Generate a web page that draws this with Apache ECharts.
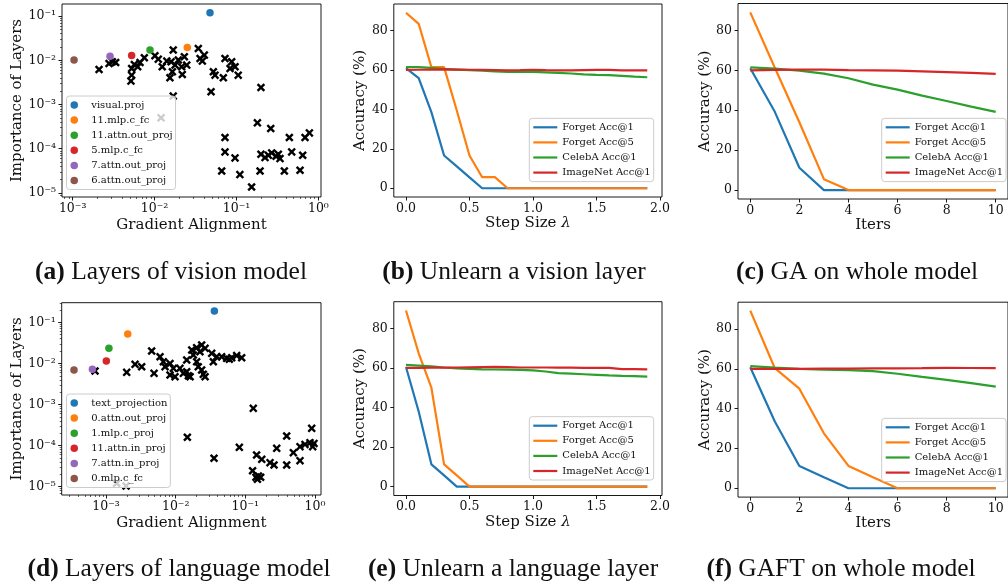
<!DOCTYPE html>
<html><head><meta charset="utf-8">
<script src="https://cdn.jsdelivr.net/npm/echarts@6/dist/echarts.min.js"></script>
<style>html,body{margin:0;padding:0;background:#fff}#c{width:1008px;height:585px}</style>
</head><body><div id="c"></div>
<script>
// ---------------- DATA ----------------
const stepX = [0,0.1,0.2,0.3,0.4,0.5,0.6,0.7,0.8,0.9,1.0,1.1,1.2,1.3,1.4,1.5,1.6,1.7,1.8,1.9];
const iterX = [0,1,2,3,4,5,6,7,8,9,10];
const lineNames = ['Forget Acc@1','Forget Acc@5','CelebA Acc@1','ImageNet Acc@1'];

// (b) Unlearn a vision layer
const bForget1 = [60.9,55.8,38.6,16.6,11.1,5.5,0,0,0,0,0,0,0,0,0,0,0,0,0,0];
const bForget5 = [89,83.4,61.4,61.4,39.4,16.6,5.6,5.6,0,0,0,0,0,0,0,0,0,0,0,0];
const bCeleb   = [61.5,61.4,61,60.5,60.2,59.9,59.6,59.3,59.0,59.0,59.0,58.8,58.5,58.2,57.8,57.5,57.4,57.0,56.6,56.3];
const bImageNet= [60,60.1,60.2,60.3,60.2,60.1,60.0,59.9,59.8,59.9,60.1,59.9,59.8,59.8,59.9,60.0,60.0,59.8,59.8,59.8];

// (c) GA on whole model
const cForget1 = [61,39.2,11.2,0,0,0,0,0,0,0,0];
const cForget5 = [89,61.3,34,5.5,0,0,0,0,0,0,0];
const cCeleb   = [61.5,60.8,59.8,58.3,56,52.8,50.3,47.3,44.6,41.8,39.2];
const cImageNet= [60,60.2,60.3,60.3,60.1,60,59.8,59.5,59.1,58.7,58.2];

// (e) Unlearn a language layer
const eForget1 = [60.5,38,11.3,5.7,0,0,0,0,0,0,0,0,0,0,0,0,0,0,0,0];
const eForget5 = [89,67.4,50,11.3,5.7,0,0,0,0,0,0,0,0,0,0,0,0,0,0,0];
const eCeleb   = [61.5,61.2,60.8,60.2,59.8,59.5,59.3,59.2,59.1,59.0,58.8,58.2,57.4,57.1,56.8,56.5,56.2,56.0,55.9,55.6];
const eImageNet= [60.0,60.0,60.1,60.1,60.2,60.3,60.4,60.5,60.4,60.2,60.2,60.2,60.1,60.1,60.0,60.0,60.0,59.4,59.4,59.3];

// (f) GAFT on whole model
const fForget1 = [60.8,33.5,11.2,5.5,0,0,0,0,0,0,0];
const fForget5 = [89.2,60.3,50,27.6,11.2,5.5,0,0,0,0,0];
const fCeleb   = [61.3,60.6,60,59.6,59.3,58.8,57.5,55.9,54.4,52.8,51];
const fImageNet= [60,60,60,60.1,60.1,60.2,60.2,60.3,60.5,60.4,60.3];

// (a) Layers of vision model: [gradient alignment, importance]
const visionLayerNames = ['visual.proj','11.mlp.c_fc','11.attn.out_proj','5.mlp.c_fc','7.attn.out_proj','6.attn.out_proj'];
const visionLayerPoints = [[0.0475,0.119],[0.0251,0.0195],[0.00879,0.0170],[0.00525,0.01285],[0.00286,0.0124],[0.00104,0.0101]];
const visionCross = [
 [2.10e-3,6.2e-3],[2.78e-3,8.48e-3],[3.05e-3,9.25e-3],[3.35e-3,8.93e-3],
 [5.25e-3,6.53e-3],[5.25e-3,4.61e-3],[5.15e-3,3.38e-3],[5.66e-3,8.05e-3],[6.22e-3,7.13e-3],[6.64e-3,8.93e-3],[7.50e-3,1.14e-2],
 [1.01e-2,1.26e-2],[1.11e-2,1.06e-2],[1.24e-2,7.13e-3],[1.41e-2,9.58e-3],[1.69e-2,1.70e-2],[1.59e-2,9.25e-3],[1.78e-2,7.78e-3],[1.54e-2,4.02e-3],[1.65e-2,5.49e-3],
 [1.95e-2,1.01e-2],[2.14e-2,7.13e-3],[2.31e-2,1.20e-2],[2.18e-2,4.78e-3],[2.47e-2,7.78e-3],
 [3.42e-2,1.85e-2],[3.59e-2,1.10e-2],[4.05e-2,1.31e-2],[3.83e-2,9.58e-3],
 [5.22e-2,5.49e-3],[5.47e-2,4.61e-3],[6.91e-2,4.02e-3],[7.24e-2,1.10e-2],[8.74e-2,9.25e-3],[9.6e-2,7.13e-3],[1.05e-1,4.61e-3],[8.34e-2,6.53e-3],
 [4.89e-2,1.94e-3],[1.69e-2,1.55e-3],[1.20e-2,4.99e-4],
 [1.99e-1,2.43e-3],[1.80e-1,3.85e-4],[2.62e-1,2.86e-4],[7.24e-2,1.79e-4],[4.42e-1,1.79e-4],[6.87e-1,1.79e-4],[7.76e-1,2.28e-4],
 [7.24e-2,8.48e-5],[9.6e-2,6.2e-5],[1.99e-1,7.5e-5],[2.23e-1,6.31e-5],[2.45e-1,7.13e-5],[2.69e-1,8.05e-5],[3.04e-1,6.76e-5],[3.40e-1,5.99e-5],[3.24e-1,7.5e-5],[4.72e-1,8.48e-5],[6.43e-1,7.13e-5],
 [6.6e-2,3.15e-5],[1.10e-1,2.6e-5],[1.94e-1,3.15e-5],[3.84e-1,3.15e-5],[5.97e-1,3.26e-5],[1.53e-1,1.37e-5]
];

// (d) Layers of language model
const languageLayerNames = ['text_projection','0.attn.out_proj','1.mlp.c_proj','11.attn.in_proj','7.attn.in_proj','0.mlp.c_fc'];
const languageLayerPoints = [[0.0359,0.189],[0.00205,0.052],[0.00110,0.0233],[0.00101,0.0115],[0.000637,0.00718],[0.000347,0.00692]];
const languageCross = [
 [6.95e-4,6.54e-3],[1.98e-3,6.07e-3],[2.61e-3,9.5e-3],[3.25e-3,8.33e-3],[4.52e-3,2.0e-2],[4.89e-3,5.74e-3],[5.96e-3,1.46e-2],[6.65e-3,1.10e-2],[7.03e-3,8.33e-3],[8.29e-3,1.0e-2],[9.26e-3,7.59e-3],[8.29e-3,5.22e-3],[9.78e-3,4.76e-3],
 [1.15e-2,7.59e-3],[1.29e-2,5.74e-3],[1.44e-2,6.3e-3],[1.52e-2,5.03e-3],[1.61e-2,4.76e-3],[1.44e-2,1.21e-2],[1.70e-2,2.12e-2],[1.79e-2,1.60e-2],[2.0e-2,2.42e-2],[2.36e-2,2.81e-2],[2.64e-2,2.33e-2],[2.23e-2,1.93e-2],[2.0e-2,1.10e-2],[2.11e-2,8.33e-3],[2.36e-2,6.92e-3],[2.49e-2,5.42e-3],[2.64e-2,4.76e-3],
 [3.29e-2,1.76e-2],[3.47e-2,1.10e-2],[3.88e-2,1.46e-2],[4.57e-2,1.46e-2],[5.40e-2,1.33e-2],[6.37e-2,1.38e-2],[7.51e-2,1.55e-2],[8.86e-2,1.38e-2],[5.89e-2,1.26e-2],
 [1.42e-3,1.21e-5],[1.94e-3,1.04e-5],
 [1.47e-2,1.59e-4],[1.30e-1,8.07e-4],[3.55e-2,4.9e-5],[8.2e-2,9.07e-5],[1.45e-1,5.9e-5],[1.72e-1,4.63e-5],[2.26e-1,3.84e-5],[2.58e-1,3.37e-5],[2.82e-1,8.57e-5],[3.92e-1,1.71e-4],[3.92e-1,3.37e-5],[4.89e-1,6.73e-5],[6.09e-1,4.3e-5],
 [1.27e-1,2.45e-5],[1.42e-1,1.69e-5],[1.54e-1,1.82e-5],[1.66e-1,1.69e-5],[1.49e-1,1.51e-5],[6.09e-1,9.42e-5],[7.18e-1,1.07e-4],[8.47e-1,1.18e-4],[9.26e-1,9.42e-5],[8.96e-1,2.63e-4],[9.67e-1,1.13e-4]
];

// tick labels
const logMajorTicks = [1e-5,1e-4,1e-3,1e-2,1e-1,1];
const accTicks = [0,20,40,60,80];
const stepTicks = [0,0.5,1.0,1.5,2.0];
const iterTicks = [0,2,4,6,8,10];
const captions = [
 ['(a)','Layers of vision model'],['(b)','Unlearn a vision layer'],['(c)','GA on whole model'],
 ['(d)','Layers of language model'],['(e)','Unlearn a language layer'],['(f)','GAFT on whole model']
];

// ---------------- STYLE ----------------
const F = 'DejaVu Serif';
const lineColors = ['#1f77b4','#ff7f0e','#2ca02c','#d62728'];
const layerColors = ['#1f77b4','#ff7f0e','#2ca02c','#d62728','#9467bd','#8c564b'];
const TXT = '#111';
const SUP = {'-':'\u207B','0':'\u2070','1':'\u00B9','2':'\u00B2','3':'\u00B3','4':'\u2074','5':'\u2075','6':'\u2076'};
function logLabel(v){ const e = Math.round(Math.log10(v)); return '10' + String(e).split('').map(c=>SUP[c]).join(''); }
const minorTicks = [];
for (let e = -6; e <= 0; e++) for (let k = 2; k <= 9; k++) minorTicks.push(k * Math.pow(10, e));

const grids = [
 {left:62,   top:4,     width:259,   height:193},
 {left:393.8,top:4,     width:268.2, height:193},
 {left:738,  top:3.5,   width:277.2, height:195.5},
 {left:61.7, top:302.7, width:259.3, height:192.3},
 {left:393.8,top:301.7, width:268.2, height:193.8},
 {left:738,  top:302.2, width:277.2, height:194.9}
].map(g => Object.assign({show:true, borderColor:'#000', borderWidth:0.9, backgroundColor:'transparent'}, g));

const tickStyle = {color:'#000', width:0.9};
function axisBase(extra){
  return Object.assign({
    axisLine:{show:false, onZero:false}, splitLine:{show:false},
    axisTick:{show:true, inside:false, length:3.5, lineStyle:tickStyle},
    axisLabel:{color:TXT, fontFamily:F, fontSize:12.5, margin:6},
    nameLocation:'middle',
    nameTextStyle:{color:TXT, fontFamily:F, fontSize:15}
  }, extra);
}
function logX(gi, min, max){
  return axisBase({type:'log', gridIndex:gi, min, max, name:'Gradient Alignment', nameGap:21,
    axisLabel:{color:TXT, fontFamily:F, fontSize:12.5, margin:5, customValues:logMajorTicks, formatter:logLabel},
    axisTick:{show:true, length:3.5, lineStyle:tickStyle, customValues:logMajorTicks}});
}
function logY(gi, min, max){
  return axisBase({type:'log', gridIndex:gi, min, max, name:'Importance of Layers', nameGap:36,
    axisLabel:{color:TXT, fontFamily:F, fontSize:12.5, margin:6, customValues:logMajorTicks, formatter:logLabel},
    axisTick:{show:true, length:3.5, lineStyle:tickStyle, customValues:logMajorTicks}});
}
function minorAxis(gi, min, max, pos){
  return {type:'log', gridIndex:gi, min, max, position:pos, axisLine:{show:false, onZero:false}, splitLine:{show:false},
    axisLabel:{show:false}, axisTick:{show:true, length:2, lineStyle:{color:'#000', width:0.6}, customValues:minorTicks}};
}
function accY(gi){
  return axisBase({type:'value', gridIndex:gi, min:-4.45, max:93.45, name:'Accuracy (%)', nameGap:24,
    axisLabel:{color:TXT, fontFamily:F, fontSize:12.5, margin:6, customValues:accTicks},
    axisTick:{show:true, length:3.5, lineStyle:tickStyle, customValues:accTicks}});
}
function stepXAxis(gi){
  return axisBase({type:'value', gridIndex:gi, min:-0.096, max:2.016, name:'Step Size {i|\u03BB}', nameGap:19,
    nameTextStyle:{color:TXT, fontFamily:F, fontSize:15, rich:{i:{fontFamily:F, fontStyle:'italic', fontSize:15, color:TXT}}},
    axisLabel:{color:TXT, fontFamily:F, fontSize:12.5, margin:5, customValues:stepTicks, formatter:v=>v.toFixed(1)},
    axisTick:{show:true, length:3.5, lineStyle:tickStyle, customValues:stepTicks}});
}
function iterXAxis(gi){
  return axisBase({type:'value', gridIndex:gi, min:-0.5, max:10.5, name:'Iters', nameGap:19,
    axisLabel:{color:TXT, fontFamily:F, fontSize:12.5, margin:5, customValues:iterTicks},
    axisTick:{show:true, length:3.5, lineStyle:tickStyle, customValues:iterTicks}});
}

const A_X = [7.41e-4, 1.076], A_Y = [8.11e-6, 0.187];
const D_X = [2.31e-4, 1.219], D_Y = [6.27e-6, 0.301];

const xAxes = [logX(0, A_X[0], A_X[1]), stepXAxis(1), iterXAxis(2), logX(3, D_X[0], D_X[1]), stepXAxis(4), iterXAxis(5),
  minorAxis(0, A_X[0], A_X[1], 'bottom'), minorAxis(3, D_X[0], D_X[1], 'bottom')];
const yAxes = [logY(0, A_Y[0], A_Y[1]), accY(1), accY(2), logY(3, D_Y[0], D_Y[1]), accY(4), accY(5),
  minorAxis(0, A_Y[0], A_Y[1], 'left'), minorAxis(3, D_Y[0], D_Y[1], 'left')];

const CROSS = 'path://M0,2L2,0L5,3L8,0L10,2L7,5L10,8L8,10L5,7L2,10L0,8L3,5Z';
const series = [];
function crossSeries(data, gi){
  series.push({type:'scatter', name:'cross'+gi, xAxisIndex:gi, yAxisIndex:gi, data, symbol:CROSS, symbolSize:8.5,
    itemStyle:{color:'#000', opacity:1}, silent:true, z:2});
}
function layerSeries(names, pts, gi){
  names.forEach((n,i)=>series.push({type:'scatter', name:n, xAxisIndex:gi, yAxisIndex:gi, data:[pts[i]],
    symbol:'circle', symbolSize:7.5, itemStyle:{color:layerColors[i], opacity:1}, silent:true, z:3}));
}
function lineSet(xs, arrs, gi){
  arrs.forEach((ys,i)=>series.push({type:'line', name:lineNames[i], xAxisIndex:gi, yAxisIndex:gi,
    data: xs.map((x,j)=>[x, ys[j]]), symbol:'none', showSymbol:false,
    lineStyle:{width:2.2, color:lineColors[i]}, itemStyle:{color:lineColors[i]}, silent:true, z:2+i*0.01}));
}
crossSeries(visionCross, 0); layerSeries(visionLayerNames, visionLayerPoints, 0);
lineSet(stepX, [bForget1,bForget5,bCeleb,bImageNet], 1);
lineSet(iterX, [cForget1,cForget5,cCeleb,cImageNet], 2);
crossSeries(languageCross, 3); layerSeries(languageLayerNames, languageLayerPoints, 3);
lineSet(stepX, [eForget1,eForget5,eCeleb,eImageNet], 4);
lineSet(iterX, [fForget1,fForget5,fCeleb,fImageNet], 5);

function legend(left, top, data, isScatter){
  return {show:true, orient:'vertical', left, top, data, selectedMode:false,
    icon: isScatter ? 'circle' : 'rect', itemWidth:24, itemHeight: isScatter ? 7.5 : 2.2, itemGap:5.1,
    padding:[4,3,4,4], backgroundColor:'rgba(255,255,255,0.8)', borderColor:'#cccccc', borderWidth:1, borderRadius:3,
    textStyle:{fontFamily:F, fontSize:10, color:TXT, padding:0}};
}
const legends = [
  legend(66.5, 96, visionLayerNames, true),
  legend(529.3, 118.3, lineNames, false),
  legend(881.7, 118.3, lineNames, false),
  legend(66.5, 394, languageLayerNames, true),
  legend(529.3, 416.7, lineNames, false),
  legend(881.7, 418.3, lineNames, false)
];

const capPos = [[171,272],[514,272],[857,272],[179,569],[513,569],[841,569]];
const graphics = captions.map((c,i)=>({type:'text', x:capPos[i][0], y:capPos[i][1], silent:true,
  style:{text:'{b|'+c[0]+'} '+c[1], fontFamily:'Liberation Serif', fontSize:25.5, fill:'#111', align:'center', verticalAlign:'middle',
    rich:{b:{fontFamily:'Liberation Serif', fontSize:25.5, fontWeight:'bold', fill:'#111'}}}}));

const chart = echarts.init(document.getElementById('c'), null, {renderer:'canvas'});
chart.setOption({
  animation:false, backgroundColor:'#fff',
  grid:grids, xAxis:xAxes, yAxis:yAxes, series, legend:legends, graphic:graphics
});
</script></body></html>
